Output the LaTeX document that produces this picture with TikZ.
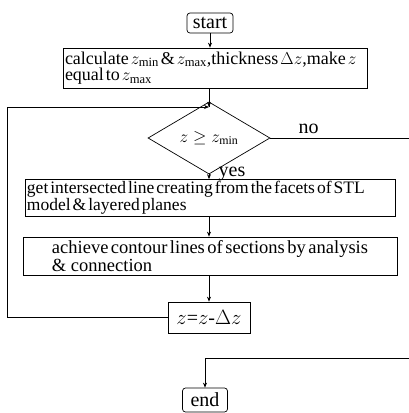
\documentclass[tikz,border=0pt]{standalone}
\usepackage{fontspec}
\setmainfont{Liberation Serif}
\usetikzlibrary{shapes.geometric,arrows.meta}

\newcommand{\tightsp}[1]{\spaceskip=#1 plus 1pt\relax}

\tikzset{
  term/.style={draw, rounded corners=3pt, inner sep=1pt, font=\fontsize{20}{20}\selectfont},
  stepbox/.style={draw, rectangle, inner sep=2pt, align=left},
  decide/.style={draw, diamond, inner sep=0pt, minimum width=122pt, minimum height=46pt, font=\fontsize{17}{17}\selectfont},
  arr/.style={-{Stealth[length=5pt,width=4pt]}},
  lbl/.style={font=\fontsize{20}{20}\selectfont}
}

\begin{document}
\begin{tikzpicture}[x=1pt, y=-1pt, line width=0.7pt]
	%%%%% START %%%%%
	\useasboundingbox (0,0) rectangle (409,413);
	
	\node[term, minimum width=46pt, minimum height=20pt] (start) at (210, 23) {start};
	
	\node[stepbox, minimum width=304pt, minimum height=40pt, text width=300pt,
		font=\fontsize{18}{15}\selectfont] (calc) at (215, 68)
		{\tightsp{2pt}calculate $z_{\min}$ \& $z_{\max}$,thickness $\Delta z$,make $z$\\equal to $z_{\max}$};
	
	\coordinate (join) at (209, 107);
	\node[decide] (test) at (209, 138) {$z\geq z_{\min}$};
	
	\node[stepbox, minimum width=370pt, minimum height=30pt, text width=366pt,
		font=\fontsize{17.5}{12}\selectfont] (slice) at (210, 198)
		{\tightsp{2pt}get intersected line creating from the facets of STL\\model \& layered planes};
	
	\node[stepbox, minimum width=374pt, minimum height=38pt,
		font=\fontsize{18.5}{14}\selectfont] (contour) at (210, 256)
		{\tightsp{2.5pt}achieve contour lines of sections by analysis\\\& connection};
	
	\node[draw, minimum width=82pt, minimum height=31pt, inner sep=0pt, font=\fontsize{20}{20}\selectfont] (step) at (209, 317.5) {$z$=$z$-$\Delta z$};
	
	\node[term, minimum width=45pt, minimum height=24pt] (end) at (205, 400) {end};
	
	% free ends at the right edge
	\coordinate (noout) at (409, 138);
	\coordinate (noin) at (409, 358);
	\coordinate (loopa) at (7, 317.5);
	\coordinate (loopb) at (7, 107);
	
	%%%%% CONNECTORS %%%%%
	\draw[arr] (start.south) -- (start.south |- calc.north);
	\draw[arr] (join |- calc.south) -- (join);
	\draw (join) -- (test.north);
	\draw[arr] (test.south) -- (test.south |- slice.north);
	\draw[arr] (test.south |- slice.south) -- (test.south |- contour.north);
	\draw[arr] (test.south |- contour.south) -- (step.north);
	\draw[arr] (step.west) -- (loopa) -- (loopb) -- (join);
	\draw (test.east) -- (noout);
	\draw[arr] (noin) -- (noin -| end.north) -- (end.north);
	
	\node[lbl, anchor=south west] at (295, 137) {no};
	\node[lbl, anchor=west] at (215, 174) {yes};
	
	%%%%% END %%%%%
\end{tikzpicture}
\end{document}
